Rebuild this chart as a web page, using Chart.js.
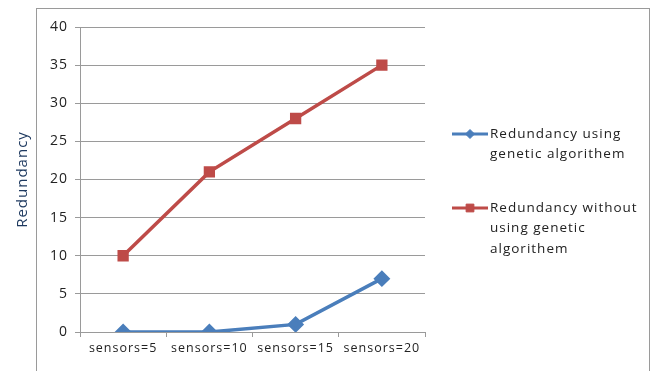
<!DOCTYPE html>
<html>
<head>
<meta charset="utf-8">
<script src="https://cdn.jsdelivr.net/npm/chart.js@4/dist/chart.umd.min.js"></script>
<style>
  html, body { margin: 0; padding: 0; background: #fff; }
  #wrap { position: relative; width: 656px; height: 371px; }
  #frame { position: absolute; left: 36px; top: 8px; width: 614px; height: 380px; border: 1px solid #9a9a9a; box-sizing: border-box; }
  canvas { position: absolute; left: 0; top: 0; }
</style>
</head>
<body>
<div id="wrap">
  <div id="frame"></div>
  <canvas id="c" width="656" height="371"></canvas>
</div>
<script>
// Sensor counts on the x axis
const categories = ['sensors=5', 'sensors=10', 'sensors=15', 'sensors=20'];
// Redundancy with the genetic algorithm
const withGA = [0, 0, 1, 7];
// Redundancy without the genetic algorithm
const withoutGA = [10, 21, 28, 35];
// Legend text, one array of lines per series
const legendLines = [
  ['Redundancy using', 'genetic algorithem'],
  ['Redundancy without', 'using genetic', 'algorithem']
];
const yTicks = [0, 5, 10, 15, 20, 25, 30, 35, 40];

const FONT = '"Open Sans", "Liberation Sans", sans-serif';
const BLUE = '#4a7ebb';
const RED = '#be4b48';

// Slightly loose text tracking for every label on the canvas
const tracking = {
  id: 'tracking',
  beforeDraw(chart) { chart.ctx.letterSpacing = '1px'; }
};

// Legend drawn to the right of the plot, with wrapped multi-line labels
const sideLegend = {
  id: 'sideLegend',
  afterDraw(chart) {
    const ctx = chart.ctx;
    const items = [
      { ds: chart.data.datasets[0], y: 134, r: 4.5, lines: legendLines[0] },
      { ds: chart.data.datasets[1], y: 208, r: 5.5, lines: legendLines[1] }
    ];
    ctx.save();
    items.forEach(it => {
      const x0 = 452, x1 = 488, cx = (x0 + x1) / 2;
      ctx.strokeStyle = it.ds.borderColor;
      ctx.lineWidth = 3;
      ctx.beginPath();
      ctx.moveTo(x0, it.y);
      ctx.lineTo(x1, it.y);
      ctx.stroke();
      ctx.fillStyle = it.ds.pointBackgroundColor;
      ctx.strokeStyle = it.ds.pointBorderColor;
      ctx.lineWidth = 1;
      Chart.helpers.drawPoint(ctx, {
        pointStyle: it.ds.pointStyle,
        radius: it.r,
        borderWidth: 1
      }, cx, it.y);
      ctx.fillStyle = '#222';
      ctx.font = '13.5px ' + FONT;
      ctx.letterSpacing = '1px';
      ctx.textBaseline = 'middle';
      ctx.textAlign = 'left';
      it.lines.forEach((ln, i) => ctx.fillText(ln, 490, it.y + i * 20.5));
    });
    ctx.restore();
  }
};

new Chart(document.getElementById('c'), {
  type: 'line',
  data: {
    labels: categories,
    datasets: [
      {
        label: 'Redundancy using genetic algorithem',
        data: withGA,
        borderColor: BLUE,
        backgroundColor: BLUE,
        pointBackgroundColor: BLUE,
        pointBorderColor: BLUE,
        borderWidth: 3.5,
        pointStyle: 'rectRot',
        pointRadius: 6,
        tension: 0
      },
      {
        label: 'Redundancy without using genetic algorithem',
        data: withoutGA,
        borderColor: RED,
        backgroundColor: RED,
        pointBackgroundColor: RED,
        pointBorderColor: RED,
        borderWidth: 3.5,
        pointStyle: 'rect',
        pointRadius: 5.5,
        tension: 0
      }
    ]
  },
  options: {
    responsive: false,
    animation: false,
    layout: { padding: { left: 0, right: 231, top: 27, bottom: 0 } },
    plugins: { legend: { display: false }, tooltip: { enabled: false } },
    scales: {
      x: {
        offset: true,
        grid: { offset: true, drawOnChartArea: false, drawTicks: true, tickLength: 5, color: '#9a9a9a' },
        border: { color: '#9a9a9a' },
        ticks: { color: '#222', font: { family: FONT, size: 12.5 }, padding: 4, maxRotation: 0, autoSkip: false },
        afterFit: s => { s.height = 39; }
      },
      y: {
        min: 0, max: 40,
        afterBuildTicks: s => { s.ticks = yTicks.map(v => ({ value: v })); },
        grid: { color: '#9a9a9a', tickLength: 5, drawTicks: true },
        border: { color: '#9a9a9a' },
        ticks: { color: '#222', font: { family: FONT, size: 14 }, padding: 7 },
        title: { display: true, text: 'Redundancy', color: '#1f3a60', font: { family: FONT, size: 15 }, padding: { top: 14, bottom: 0 } },
        afterFit: s => { s.width = 80; }
      }
    }
  },
  plugins: [tracking, sideLegend]
});
</script>
</body>
</html>
